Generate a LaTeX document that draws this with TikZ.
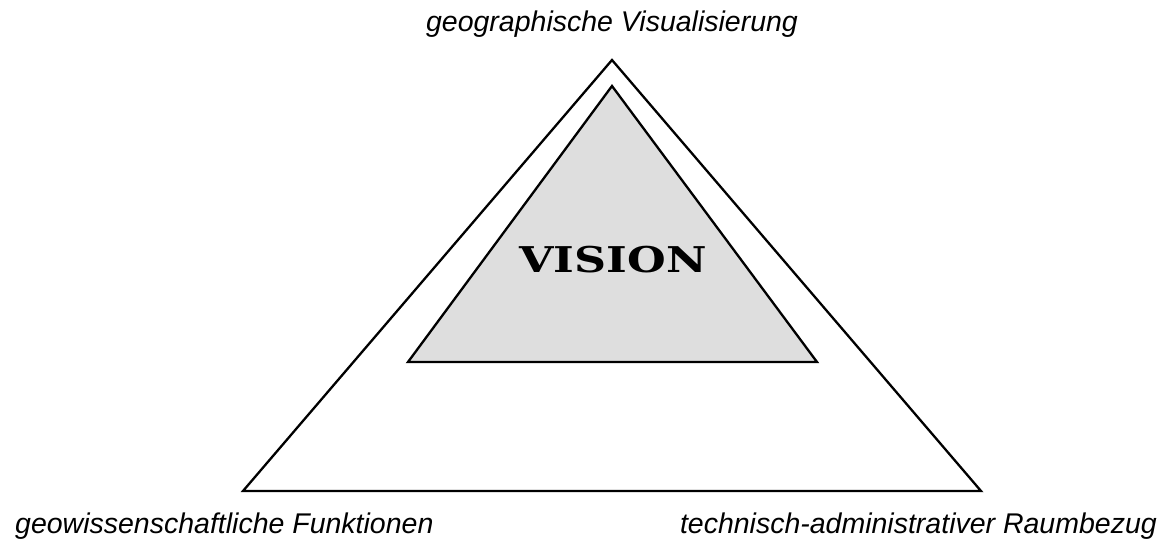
\documentclass[tikz,border=0pt]{standalone}
\usepackage{fontspec}
\setmainfont{Liberation Sans}
\newfontfamily\visionfont{DejaVu Serif}
\definecolor{visiongray}{RGB}{222,222,222}

\begin{document}
\begin{tikzpicture}[x=1pt,y=-1pt,
  label/.style={font=\fontsize{28.5}{30}\selectfont\itshape,inner sep=0pt},
  edge/.style={line width=2.3pt,line join=miter}]
  \useasboundingbox (0,0) rectangle (1170,545);

  \coordinate (top) at (612,60);
  \coordinate (left) at (243,491);
  \coordinate (right) at (981,491);

  \coordinate (itop) at (612,86);
  \coordinate (ileft) at (408,362);
  \coordinate (iright) at (817,362);

  \draw[edge] (top) -- (right) -- (left) -- cycle;
  \draw[edge,fill=visiongray] (itop) -- (iright) -- (ileft) -- cycle;

  \node (vision) at (613,260) {\scalebox{1.25}[1]{\visionfont\bfseries\fontsize{35.5}{36}\selectfont VISION}};

  \node[label,anchor=base] (visual) at (612,32) {geographische Visualisierung};
  \node[label,anchor=base west] (geo) at (15,533) {geowissenschaftliche Funktionen};
  \node[label,anchor=base east] (tech) at (1157,533) {technisch-administrativer Raumbezug};
\end{tikzpicture}
\end{document}
